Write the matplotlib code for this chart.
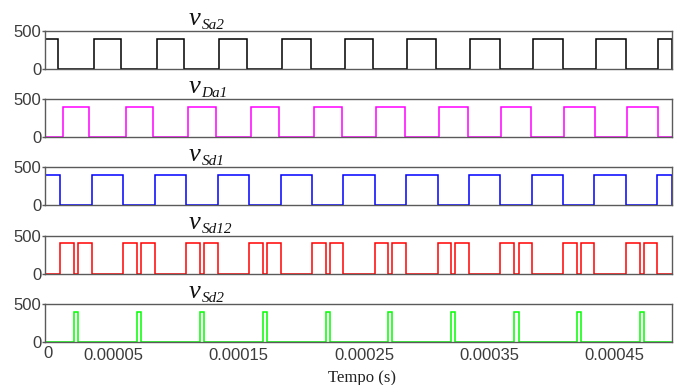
import matplotlib.pyplot as plt
from matplotlib.transforms import ScaledTranslation

plt.rcParams.update({
    'font.family': ['Liberation Sans', 'DejaVu Sans'],
})

# intervalos em que cada sinal está ligado (µs): (liga, desliga)
v_sa2 = [(0, 10.4), (39.0, 60.6), (89.0, 110.6), (139.0, 161.2), (189.0, 211.8),
         (239.0, 261.8), (289.0, 312.2), (339.0, 362.6), (389.0, 413.0),
         (439.0, 463.2), (489.0, 500)]
v_da1 = [(14.4, 35.4), (64.2, 85.8), (114.2, 136.2), (164.3, 186.4), (214.2, 236.8),
         (264.0, 287.2), (314.2, 337.6), (364.0, 387.8), (414.2, 438.2), (464.0, 488.6)]
v_sd1 = [(0, 12.3), (37.4, 62.5), (87.4, 112.6), (137.6, 162.8), (187.8, 212.8),
         (237.8, 263.0), (288.0, 313.0), (338.2, 363.0), (388.0, 413.0),
         (438.0, 463.0), (488.0, 500)]
v_sd12 = [(12.3, 23.2), (26.4, 37.4), (62.5, 73.4), (76.6, 87.4), (112.6, 123.4),
          (126.6, 137.6), (162.8, 173.8), (177.0, 187.8), (212.8, 223.8), (227.0, 237.8),
          (263.0, 273.8), (277.0, 288.0), (313.0, 324.0), (327.2, 338.2), (363.0, 374.4),
          (377.6, 388.0), (413.0, 424.6), (427.8, 438.0), (463.0, 474.6), (477.8, 488.0)]
v_sd2 = [(23.2, 26.4), (73.4, 76.6), (123.4, 126.6), (173.8, 177.0), (223.8, 227.0),
         (273.8, 277.0), (324.0, 327.2), (374.4, 377.6), (424.6, 427.8), (474.6, 477.8)]

nivel = 400          # tensão no estado ligado (V)
t_final = 500        # µs

sinais = [
    (v_sa2, '#000000', 'Sa2'),
    (v_da1, '#ff00ff', 'Da1'),
    (v_sd1, '#0000ff', 'Sd1'),
    (v_sd12, '#ff0000', 'Sd12'),
    (v_sd2, '#00ff00', 'Sd2'),
]

xticks = [0.00005, 0.00015, 0.00025, 0.00035, 0.00045]
xticklabels = ['0.00005', '0.00015', '0.00025', '0.00035', '0.00045']


def forma_de_onda(intervalos):
    t, v = [0.0], [0.0]
    for on, off in intervalos:
        t += [on, on, off, off]
        v += [0, nivel, nivel, 0]
    t.append(t_final)
    v.append(0)
    return [x * 1e-6 for x in t], v


W, H = 689, 385
fig = plt.figure(figsize=(W / 100, H / 100), dpi=100)
topos = [31, 99.3, 167.3, 235.7, 304]
alt = 38
x0, larg = 45, 627
cinza = '#5a5a5a'
texto = '#3c3c3c'
serif_it = dict(family='Liberation Serif', style='italic', color='#111111')


def px(dx, dy):
    return ScaledTranslation(dx / 100, dy / 100, fig.dpi_scale_trans)


for i, (intervalos, cor, nome) in enumerate(sinais):
    ax = fig.add_axes([x0 / W, 1 - (topos[i] + alt) / H, larg / W, alt / H])
    t, v = forma_de_onda(intervalos)
    ax.plot(t, v, color=cor, lw=1.1, solid_joinstyle='miter')
    ax.set_xlim(0, t_final * 1e-6)
    ax.set_ylim(0, 500)
    ax.set_yticks([0, 500])
    ax.set_yticklabels(['0', '500'])
    for s in ax.spines.values():
        s.set_color(cinza)
        s.set_linewidth(1.0)
    ax.tick_params(axis='y', length=2, width=1, color=cinza, pad=0.5,
                   labelsize=12, labelcolor=texto)
    ax.tick_params(axis='x', length=0, pad=4, labelsize=12, labelcolor=texto)
    ax.set_xticks(xticks)
    if i < len(sinais) - 1:
        ax.set_xticklabels([])
    else:
        ax.set_xticklabels(xticklabels)
        for lab in ax.get_xticklabels():
            lab.set_transform(lab.get_transform() + px(5.5, 0))
        ax.text(0, 0, '0', transform=ax.transAxes + px(2.5, -11.5),
                ha='center', va='center', fontsize=12, color=texto)

    # título: v em itálico com subscrito
    xt = (189 - x0) / larg
    ax.text(xt, 1, 'v', fontsize=19, va='baseline', ha='left',
            transform=ax.transAxes + px(0, 6.3), **serif_it)
    ax.text(xt, 1, nome, fontsize=11, va='baseline', ha='left',
            transform=ax.transAxes + px(12.5, 2.4), **serif_it)

fig.text(362 / W, 1 - 381.5 / H, 'Tempo (s)', family='Liberation Serif', fontsize=12,
         ha='center', va='baseline', color='#222222')

fig.savefig('out.png', dpi=100)
